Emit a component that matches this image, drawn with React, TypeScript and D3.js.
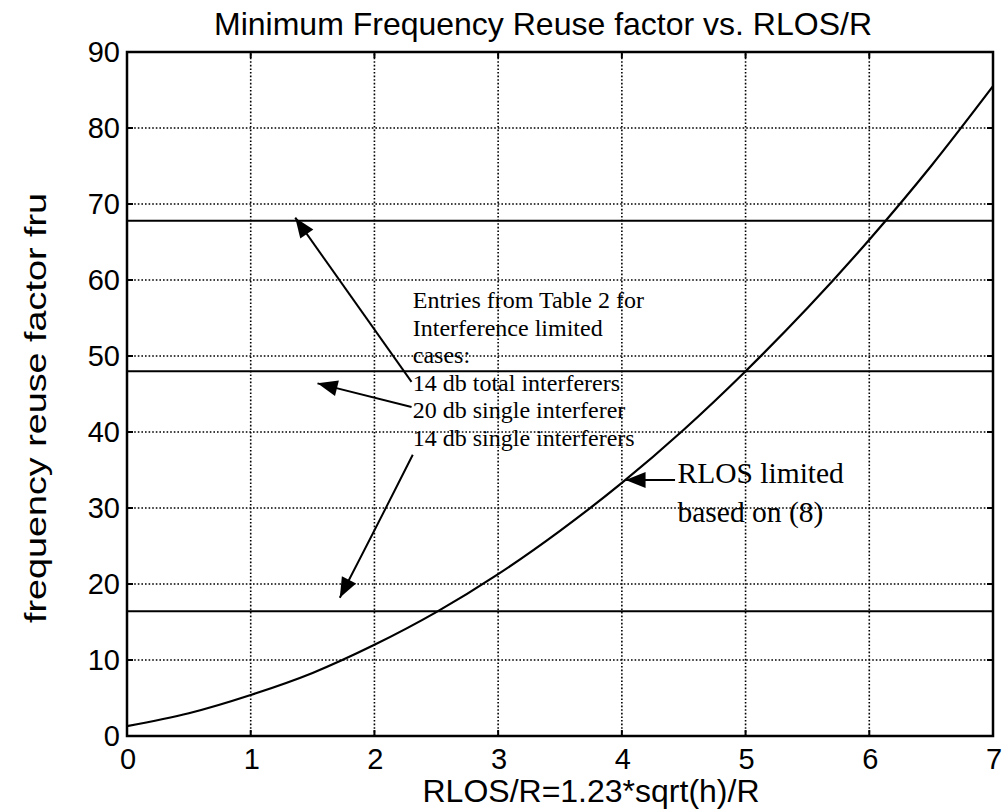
import React from "react";
import * as d3 from "d3";

// values
const xTicks = [0, 1, 2, 3, 4, 5, 6, 7];
const yTicks = [0, 10, 20, 30, 40, 50, 60, 70, 80, 90];
const curveX = [0, 0.5, 1, 1.5, 2, 2.5, 3, 3.5, 4, 4.5, 5, 5.5, 6, 6.5, 7];
const curveY = [1.3, 3.0, 5.4, 8.3, 12.0, 16.3, 21.3, 27.0, 33.3, 40.3, 48.0, 56.3, 65.3, 75.0, 85.5];
const tableLevels = [67.8, 48, 16.4];
const noteLines = [
  "Entries from Table 2 for",
  "Interference limited",
  "cases:",
  "14 db total interferers",
  "20 db single interferer",
  "14 db single interferers",
];
const rlosLines = ["RLOS limited", "based on (8)"];

const W = 1003;
const H = 812;
const margin = { left: 127, right: 10, top: 52, bottom: 76 };
const sans = "Liberation Sans, Arial, Helvetica, sans-serif";
const serif = "Liberation Serif, Times New Roman, serif";

export default function App() {
  const x = d3.scaleLinear().domain([0, 7]).range([margin.left, W - margin.right]);
  const y = d3.scaleLinear().domain([0, 90]).range([H - margin.bottom, margin.top]);

  const line = d3
    .line<number>()
    .x((_, i) => x(curveX[i]))
    .y((d) => y(d))
    .curve(d3.curveMonotoneX);

  const arrowHead = (fx: number, fy: number, tx: number, ty: number, len = 20, half = 8) => {
    const a = Math.atan2(ty - fy, tx - fx);
    const bx = tx - len * Math.cos(a);
    const by = ty - len * Math.sin(a);
    const px = -Math.sin(a) * half;
    const py = Math.cos(a) * half;
    return `M${tx},${ty}L${bx + px},${by + py}L${bx - px},${by - py}Z`;
  };

  // arrows in data coords: [fromX, fromY, toX, toY]
  const arrows: [number, number, number, number][] = [
    [2.3, 46.6, 1.36, 68.2],
    [2.3, 43.3, 1.54, 46.4],
    [4.43, 33.7, 4.03, 33.7],
  ];

  const curvedFrom = [2.31, 37.0];
  const curvedCtl = [2.0, 27.0];
  const curvedTo = [1.72, 18.2];

  const x0 = margin.left;
  const x1 = W - margin.right;
  const y0 = H - margin.bottom;
  const y1 = margin.top;

  return (
    <svg width={W} height={H} style={{ position: "absolute", left: 0, top: 0, background: "#fff" }}>
      <rect width={W} height={H} fill="#fff" />
      {/* grid */}
      <g stroke="#000" strokeWidth={1.6} strokeDasharray="1.6,2">
        {xTicks.slice(1, -1).map((t) => (
          <line key={"gx" + t} x1={x(t)} x2={x(t)} y1={y0} y2={y1} />
        ))}
        {yTicks.slice(1, -1).map((t) => (
          <line key={"gy" + t} x1={x0} x2={x1} y1={y(t)} y2={y(t)} />
        ))}
      </g>
      {/* ticks */}
      <g stroke="#000" strokeWidth={2}>
        {xTicks.map((t) => (
          <g key={"tx" + t}>
            <line x1={x(t)} x2={x(t)} y1={y0} y2={y0 - 6} />
            <line x1={x(t)} x2={x(t)} y1={y1} y2={y1 + 6} />
          </g>
        ))}
        {yTicks.map((t) => (
          <g key={"ty" + t}>
            <line x1={x0} x2={x0 + 6} y1={y(t)} y2={y(t)} />
            <line x1={x1} x2={x1 - 6} y1={y(t)} y2={y(t)} />
          </g>
        ))}
      </g>
      {/* table levels */}
      <g stroke="#000" strokeWidth={2}>
        {tableLevels.map((v) => (
          <line key={"lv" + v} x1={x0} x2={x1} y1={y(v)} y2={y(v)} />
        ))}
      </g>
      {/* curve */}
      <path d={line(curveY) || ""} fill="none" stroke="#000" strokeWidth={2.2} />
      {/* frame */}
      <rect x={x0} y={y1} width={x1 - x0} height={y0 - y1} fill="none" stroke="#000" strokeWidth={2.5} />
      {/* tick labels */}
      <g fontFamily={sans} fontSize={29} fill="#000">
        {xTicks.map((t) => (
          <text key={"lx" + t} x={x(t) + 1} y={y0 + 33} textAnchor="middle">
            {t}
          </text>
        ))}
        {yTicks.map((t) => (
          <text key={"ly" + t} x={x0 - 7} y={y(t) + 10} textAnchor="end">
            {t}
          </text>
        ))}
      </g>
      {/* title and axis labels */}
      <text x={543} y={35} textAnchor="middle" fontFamily={sans} fontSize={32}>
        Minimum Frequency Reuse factor vs. RLOS/R
      </text>
      <text x={591} y={802} textAnchor="middle" fontFamily={sans} fontSize={32}>
        RLOS/R=1.23*sqrt(h)/R
      </text>
      <text
        transform={`translate(46,408) rotate(-90)`}
        textAnchor="middle"
        fontFamily={sans}
        fontSize={30}
        textLength={430}
        lengthAdjust="spacingAndGlyphs"
      >
        frequency reuse factor fru
      </text>
      {/* annotations */}
      <g fontFamily={serif} fontSize={24} fill="#000">
        {noteLines.map((s, i) => (
          <text key={"n" + i} x={x(2.31)} y={y(56.3) + i * 27.5}>
            {s}
          </text>
        ))}
      </g>
      <g fontFamily={serif} fontSize={29.5} fill="#000">
        {rlosLines.map((s, i) => (
          <text key={"r" + i} x={x(4.45)} y={y(33.3) + i * 39}>
            {s}
          </text>
        ))}
      </g>
      <g stroke="#000" strokeWidth={2} fill="#000">
        {arrows.map(([fx, fy, tx, ty], i) => {
          const X1 = x(fx), Y1 = y(fy), X2 = x(tx), Y2 = y(ty);
          return (
            <g key={"a" + i}>
              <line x1={X1} y1={Y1} x2={X2} y2={Y2} />
              <path d={arrowHead(X1, Y1, X2, Y2)} stroke="none" />
            </g>
          );
        })}
        <path
          d={`M${x(curvedFrom[0])},${y(curvedFrom[1])}Q${x(curvedCtl[0])},${y(curvedCtl[1])} ${x(curvedTo[0])},${y(curvedTo[1])}`}
          fill="none"
        />
        <path
          d={arrowHead(x(curvedCtl[0]), y(curvedCtl[1]), x(curvedTo[0]), y(curvedTo[1]))}
          stroke="none"
        />
      </g>
    </svg>
  );
}
